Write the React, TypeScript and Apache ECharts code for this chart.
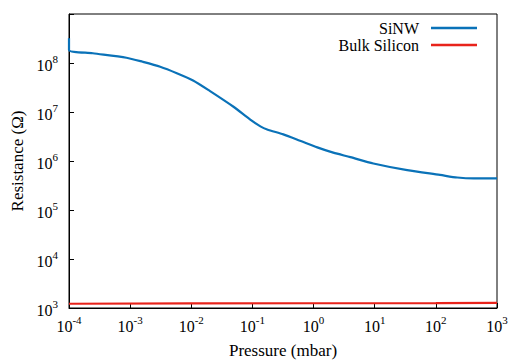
import React, { useEffect, useRef } from "react";
import * as echarts from "echarts";

const pressure = [1e-4, 1e-4, 2.45e-4, 8.7e-4, 1.6e-3, 3.1e-3, 5.8e-3, 1.07e-2, 2.0e-2, 4.9e-2, 9.1e-2, 1.35e-1, 1.74e-1, 3.2e-1, 6.0e-1, 1.15, 2.1, 4.0, 9.5, 34, 117, 224, 417, 1000];
const sinw = [3.2e8, 1.85e8, 1.58e8, 1.28e8, 1.06e8, 8.4e7, 6.2e7, 4.4e7, 2.7e7, 1.28e7, 7.1e6, 5.1e6, 4.4e6, 3.5e6, 2.6e6, 1.9e6, 1.48e6, 1.2e6, 8.9e5, 6.5e5, 5.2e5, 4.6e5, 4.4e5, 4.4e5];
const bulkPressure = [1e-4, 1e-2, 1, 100, 1000];
const bulk = [1.22e3, 1.24e3, 1.25e3, 1.26e3, 1.27e3];

const FONT = "Liberation Serif";

const supLabel = (v: number) => {
  const e = Math.round(Math.log10(v));
  return "{b|10}{s|" + e + "}";
};

const rich = {
  b: { fontSize: 16, fontFamily: FONT, color: "#000", lineHeight: 20, verticalAlign: "bottom" },
  s: { fontSize: 11, fontFamily: FONT, color: "#000", lineHeight: 11, verticalAlign: "top" },
};

export default function App() {
  const ref = useRef<HTMLDivElement>(null);
  useEffect(() => {
    const chart = echarts.init(ref.current!, null, { renderer: "svg" });
    chart.setOption({
      animation: false,
      grid: {
        left: 69, right: 11, top: 14, bottom: 52,
        show: true, borderColor: "#000", borderWidth: 1,
        containLabel: false, outerBoundsMode: "none",
      },
      legend: {
        orient: "vertical",
        align: "right",
        right: 26,
        top: 15,
        itemWidth: 46,
        itemHeight: 2.5,
        itemGap: 1,
        icon: "rect",
        textStyle: { fontFamily: FONT, fontSize: 16, color: "#000", lineHeight: 16, padding: [0, 7, 0, 0] },
        data: ["SiNW", "Bulk Silicon"],
      },
      xAxis: {
        type: "log",
        logBase: 10,
        min: 1e-4,
        max: 1e3,
        name: "Pressure (mbar)",
        nameLocation: "middle",
        nameGap: 34,
        nameTextStyle: { fontFamily: FONT, fontSize: 17, color: "#000" },
        axisLine: { show: true, lineStyle: { color: "#000", width: 1 } },
        axisTick: { show: true, inside: true, length: 5, lineStyle: { color: "#000" } },
        minorTick: { show: false },
        splitLine: { show: false },
        axisLabel: { formatter: supLabel, rich, fontFamily: FONT, fontSize: 16, margin: 6, showMinLabel: true, showMaxLabel: true },
      },
      yAxis: {
        type: "log",
        logBase: 10,
        min: 1e3,
        max: 1e9,
        name: "Resistance (Ω)",
        nameLocation: "middle",
        nameGap: 42,
        nameTextStyle: { fontFamily: FONT, fontSize: 17, color: "#000" },
        axisLine: { show: true, lineStyle: { color: "#000", width: 1 } },
        axisTick: { show: true, inside: true, length: 5, lineStyle: { color: "#000" } },
        splitLine: { show: false },
        axisLabel: {
          formatter: (v: number) => (Math.round(Math.log10(v)) >= 9 ? "" : supLabel(v)),
          rich,
          fontFamily: FONT,
          fontSize: 16,
          margin: 11,
        },
      },
      series: [
        {
          name: "SiNW",
          type: "line",
          symbol: "none",
          smooth: 0.25,
          data: pressure.map((p, i) => [p, sinw[i]]),
          lineStyle: { color: "#0a72b8", width: 2.2 },
          itemStyle: { color: "#0a72b8" },
        },
        {
          name: "Bulk Silicon",
          type: "line",
          symbol: "none",
          data: bulkPressure.map((p, i) => [p, bulk[i]]),
          lineStyle: { color: "#e8231b", width: 2.2 },
          itemStyle: { color: "#e8231b" },
        },
      ],
    });
    return () => chart.dispose();
  }, []);
  return <div ref={ref} style={{ width: 508, height: 360, position: "absolute", left: 0, top: 0 }} />;
}
